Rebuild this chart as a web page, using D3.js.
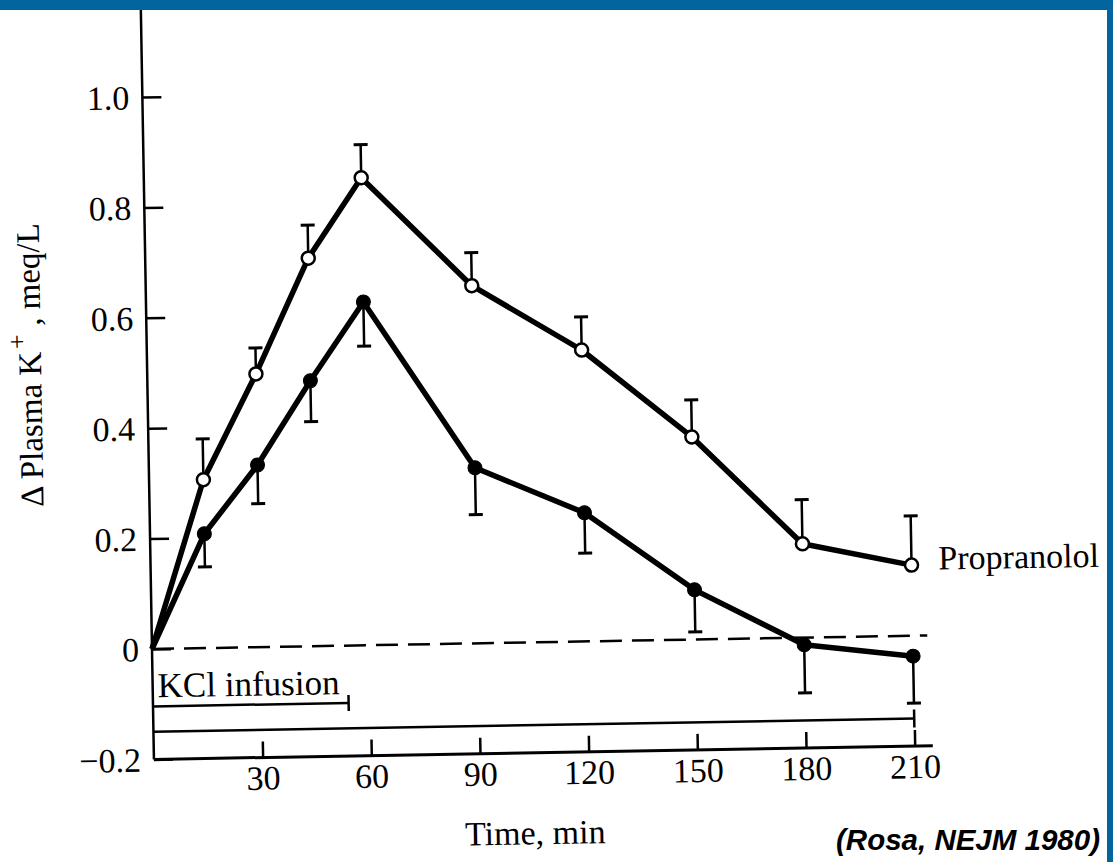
<!DOCTYPE html>
<html>
<head>
<meta charset="utf-8">
<script src="https://cdn.jsdelivr.net/npm/d3@7"></script>
<style>
  html, body { margin: 0; padding: 0; background: #fff; }
  svg { display: block; }
</style>
</head>
<body>
<svg width="1113" height="862"></svg>
<script>
// values (delta plasma K+, meq/L)
const times = [0, 15, 30, 45, 60, 90, 120, 150, 180, 210];
const propranolol = [0, 0.305, 0.495, 0.703, 0.847, 0.648, 0.528, 0.367, 0.17, 0.128];
const propranololErr = [0, 0.074, 0.047, 0.06, 0.06, 0.06, 0.06, 0.067, 0.08, 0.089];
const control = [0, 0.207, 0.33, 0.481, 0.622, 0.318, 0.233, 0.09, -0.013, -0.037];
const controlErr = [0, 0.06, 0.07, 0.074, 0.08, 0.085, 0.073, 0.076, 0.087, 0.085];

const xTicks = [30, 60, 90, 120, 150, 180, 210];
const yTicks = [-0.2, 0, 0.2, 0.4, 0.6, 0.8, 1.0];

// infusion bars: [start, end, level]
const kclBar = [0, 54, -0.104];
const studyBar = [0, 210, -0.15];

const serif = "'Liberation Serif', 'Times New Roman', serif";

const svg = d3.select("svg");
const width = +svg.attr("width");
const height = +svg.attr("height");

// the scan is tilted about one degree, so the plot is drawn in a rotated group
const origin = { x: 152, y: 649 };
const tilt = -1;

const xScale = d3.scaleLinear().domain([0, 215]).range([0, 779]);
const yScale = d3.scaleLinear().domain([-0.2, 1.2]).range([110.4, -662.4]);

const g = svg
  .append("g")
  .attr("transform", `translate(${origin.x},${origin.y}) rotate(${tilt})`);

// axes
const yAxis = d3
  .axisLeft(yScale)
  .tickValues(yTicks)
  .tickSize(-19)
  .tickPadding(13)
  .tickFormat((d) => (d === 0 ? "0" : d < 0 ? "\u2212" + Math.abs(d).toFixed(1) : d.toFixed(1)));

const yAxisG = g.append("g").call(yAxis);
yAxisG.select(".domain").remove();
yAxisG.attr("font-family", serif).attr("font-size", 34);
yAxisG.selectAll("line").attr("stroke-width", 2.5);
yAxisG.selectAll("text").attr("dy", "0.34em");

const xAxis = d3.axisBottom(xScale).tickValues(xTicks).tickSize(-16).tickPadding(8);

const xAxisG = g
  .append("g")
  .attr("transform", `translate(0,${yScale(-0.2)})`)
  .call(xAxis);
xAxisG.select(".domain").remove();
xAxisG.attr("font-family", serif).attr("font-size", 34);
xAxisG.selectAll("line").attr("stroke-width", 2.5);

g.append("line")
  .attr("x1", 0)
  .attr("x2", 0)
  .attr("y1", yScale(-0.2))
  .attr("y2", yScale(1.2))
  .attr("stroke", "#000")
  .attr("stroke-width", 2.5);

g.append("line")
  .attr("x1", xScale(0))
  .attr("x2", xScale(215))
  .attr("y1", yScale(-0.2))
  .attr("y2", yScale(-0.2))
  .attr("stroke", "#000")
  .attr("stroke-width", 3);

// zero reference
g.append("line")
  .attr("x1", xScale(0))
  .attr("x2", xScale(214))
  .attr("y1", yScale(0))
  .attr("y2", yScale(0))
  .attr("stroke", "#000")
  .attr("stroke-width", 2.5)
  .attr("stroke-dasharray", "22 10");

// horizontal period bars
const drawBar = (bar, tick) => {
  const [t0, t1, v] = bar;
  g.append("line")
    .attr("x1", xScale(t0))
    .attr("x2", xScale(t1))
    .attr("y1", yScale(v))
    .attr("y2", yScale(v))
    .attr("stroke", "#000")
    .attr("stroke-width", 2.5);
  g.append("line")
    .attr("x1", xScale(t1))
    .attr("x2", xScale(t1))
    .attr("y1", yScale(v) - tick)
    .attr("y2", yScale(v) + tick)
    .attr("stroke", "#000")
    .attr("stroke-width", 2.5);
};
drawBar(kclBar, 8);
drawBar(studyBar, 9);

g.append("text")
  .attr("x", xScale(kclBar[0]) + 5)
  .attr("y", yScale(kclBar[2]) - 9)
  .attr("font-family", serif)
  .attr("font-size", 35)
  .text("KCl infusion");

// series
const series = [
  { values: propranolol, err: propranololErr, dir: 1, open: true },
  { values: control, err: controlErr, dir: -1, open: false }
];

series.forEach((s) => {
  const pts = times.map((t, i) => ({ t, v: s.values[i], e: s.err[i] }));
  const marked = pts.filter((d) => d.t > 0);

  const eb = g.append("g").attr("stroke", "#000");
  eb.selectAll("line.bar")
    .data(marked)
    .enter()
    .append("line")
    .attr("x1", (d) => xScale(d.t))
    .attr("x2", (d) => xScale(d.t))
    .attr("y1", (d) => yScale(d.v))
    .attr("y2", (d) => yScale(d.v + s.dir * d.e))
    .attr("stroke-width", 2.5);
  eb.selectAll("line.cap")
    .data(marked)
    .enter()
    .append("line")
    .attr("x1", (d) => xScale(d.t) - 7)
    .attr("x2", (d) => xScale(d.t) + 7)
    .attr("y1", (d) => yScale(d.v + s.dir * d.e))
    .attr("y2", (d) => yScale(d.v + s.dir * d.e))
    .attr("stroke-width", 3);

  const lineGen = d3
    .line()
    .x((d) => xScale(d.t))
    .y((d) => yScale(d.v));

  g.append("path")
    .datum(pts)
    .attr("d", lineGen)
    .attr("fill", "none")
    .attr("stroke", "#000")
    .attr("stroke-width", 5.5)
    .attr("stroke-linejoin", "round");

  g.selectAll(null)
    .data(marked)
    .enter()
    .append("circle")
    .attr("cx", (d) => xScale(d.t))
    .attr("cy", (d) => yScale(d.v))
    .attr("r", s.open ? 6.5 : 7)
    .attr("fill", s.open ? "#fff" : "#000")
    .attr("stroke", "#000")
    .attr("stroke-width", s.open ? 2.5 : 1);
});

g.append("text")
  .attr("x", xScale(210) + 27)
  .attr("y", yScale(propranolol[propranolol.length - 1]) + 5)
  .attr("font-family", serif)
  .attr("font-size", 34)
  .text("Propranolol");

// axis titles
g.append("text")
  .attr("x", 380)
  .attr("y", 202)
  .attr("text-anchor", "middle")
  .attr("font-family", serif)
  .attr("font-size", 34)
  .text("Time, min");

const yTitle = g
  .append("text")
  .attr("transform", "translate(-106,-286) rotate(-90)")
  .attr("text-anchor", "middle")
  .attr("font-family", serif)
  .attr("font-size", 33);
yTitle.append("tspan").text("\u0394 Plasma K");
yTitle.append("tspan").attr("dy", -15).attr("dx", 3).attr("font-size", 26).text("+");
yTitle.append("tspan").attr("dy", 15).text(" , meq/L");

// citation
svg.append("text")
  .attr("x", 1100)
  .attr("y", 850)
  .attr("text-anchor", "end")
  .attr("font-family", "'Liberation Sans', Arial, sans-serif")
  .attr("font-weight", "bold")
  .attr("font-style", "italic")
  .attr("font-size", 29.5)
  .text("(Rosa, NEJM 1980)");

// slide frame
svg.append("rect").attr("x", 0).attr("y", 0).attr("width", width).attr("height", 10).attr("fill", "#03659d");
svg.append("rect").attr("x", 1107).attr("y", 0).attr("width", 6).attr("height", height).attr("fill", "#03659d");
</script>
</body>
</html>
